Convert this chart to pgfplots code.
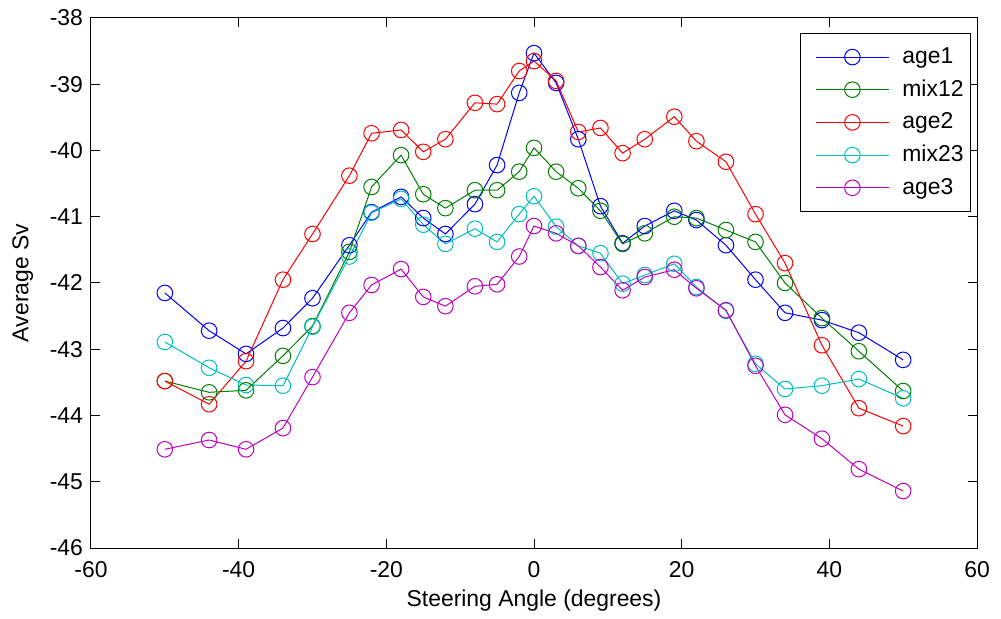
\documentclass[border=0pt]{standalone}
\usepackage{pgfplots}
\pgfplotsset{compat=1.18}
\usepackage{fontspec}
\setmainfont{Liberation Sans}
\usetikzlibrary{calc}
\definecolor{mblue}{rgb}{0,0,1}
\definecolor{mgreen}{rgb}{0,0.5,0}
\definecolor{mred}{rgb}{1,0,0}
\definecolor{mcyan}{rgb}{0,0.75,0.75}
\definecolor{mmag}{rgb}{0.75,0,0.75}
\pgfplotstableread{
x age1 mix12 age2 mix23 age3
-50 -42.15 -43.48 -43.48 -42.89 -44.51
-44 -42.72 -43.65 -43.83 -43.28 -44.37
-39 -43.07 -43.62 -43.18 -43.54 -44.51
-34 -42.68 -43.10 -41.95 -43.55 -44.19
-30 -42.23 -42.65 -41.26 -42.66 -43.42
-25 -41.43 -41.53 -40.38 -41.60 -42.45
-22 -40.93 -40.55 -39.74 -40.94 -42.03
-18 -40.70 -40.07 -39.69 -40.73 -41.79
-15 -41.02 -40.66 -40.02 -41.12 -42.21
-12 -41.26 -40.87 -39.83 -41.41 -42.35
-8 -40.81 -40.60 -39.28 -41.18 -42.05
-5 -40.22 -40.60 -39.30 -41.38 -42.02
-2 -39.13 -40.32 -38.80 -40.96 -41.60
0 -38.53 -39.96 -38.65 -40.69 -41.14
3 -38.98 -40.32 -38.95 -41.15 -41.25
6 -39.83 -40.57 -39.72 -41.44 -41.44
9 -40.84 -40.91 -39.66 -41.55 -41.76
12 -41.40 -41.41 -40.04 -42.01 -42.11
15 -41.14 -41.25 -39.83 -41.88 -41.91
19 -40.91 -41.00 -39.49 -41.71 -41.80
22 -41.05 -41.02 -39.86 -42.06 -42.08
26 -41.43 -41.20 -40.17 -42.42 -42.41
30 -41.95 -41.38 -40.96 -43.22 -43.25
34 -42.45 -42.00 -41.70 -43.60 -43.99
39 -42.56 -42.53 -42.94 -43.55 -44.35
44 -42.75 -43.03 -43.89 -43.45 -44.81
50 -43.16 -43.63 -44.16 -43.74 -45.14
}\data
\begin{document}
\fontsize{11.5}{13}\selectfont
\begin{tikzpicture}
\begin{axis}[
  scale only axis,
  width=443bp, height=265bp,
  xmin=-60, xmax=60, ymin=-46, ymax=-38,
  xtick={-60,-40,...,60},
  ytick={-46,-45,...,-38},
  tick pos=both, tick align=inside,
  major tick length=4.5bp,
  every tick/.style={black, line width=0.5bp},
  axis line style={line width=0.5bp},
  /pgf/number format/assume math mode=true,
  tick label style={font=\fontsize{11.5}{13}\selectfont},
  label style={font=\fontsize{11.5}{13}\selectfont},
  xticklabel style={yshift=-2.5bp},
  yticklabel style={xshift=0bp},
  xlabel={Steering Angle (degrees)},
  ylabel={Average Sv},
  xlabel style={yshift=1.5bp},
  ylabel style={yshift=0.5bp},
  every axis plot/.append style={line width=0.5bp, mark=o, mark size=3.9bp, mark options={solid}},
  legend style={at={(1,1)}, anchor=north east, xshift=-3bp, yshift=-7.5bp,
    draw=black, line width=0.5bp, font=\fontsize{11.5}{13}\selectfont,
    inner xsep=1.5bp, inner ysep=5bp, row sep=2.5bp, column sep=4.5bp},
  legend cell align=left,
  legend image code/.code={\path (0bp,0bp); \draw[mark repeat=2,mark phase=2,#1] plot coordinates {(6bp,0bp) (24.25bp,0bp) (42.5bp,0bp)};},
]
\addplot[mblue] table[x=x,y=age1] {\data};
\addlegendentry{age1}
\addplot[mgreen] table[x=x,y=mix12] {\data};
\addlegendentry{mix12}
\addplot[mred] table[x=x,y=age2] {\data};
\addlegendentry{age2}
\addplot[mcyan] table[x=x,y=mix23] {\data};
\addlegendentry{mix23}
\addplot[mmag] table[x=x,y=age3] {\data};
\addlegendentry{age3}
\end{axis}
\path[use as bounding box] ($(current axis.south west)+(-45.5bp,-34.5bp)$) rectangle ($(current axis.north east)+(12bp,9bp)$);
\end{tikzpicture}
\end{document}
